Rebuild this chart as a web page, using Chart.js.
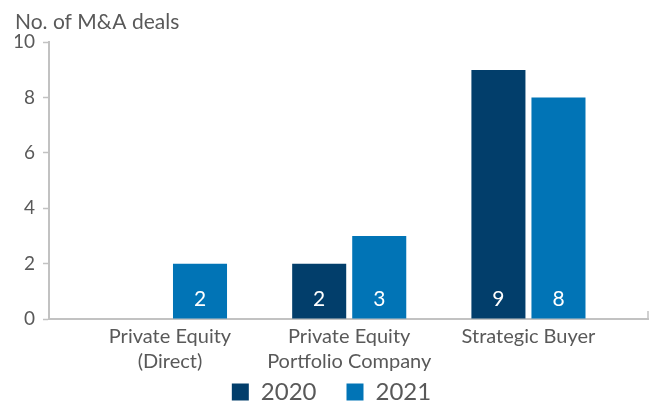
<!DOCTYPE html>
<html>
<head>
<meta charset="utf-8">
<script src="https://cdn.jsdelivr.net/npm/chart.js@4"></script>
<style>
  html, body { margin: 0; padding: 0; background: #fff; }
  #wrap { width: 656px; height: 409px; }
</style>
</head>
<body>
<div id="wrap"><canvas id="dealsChart" width="656" height="409"></canvas></div>
<script>
// chart data
const categories = [['Private Equity', '(Direct)'], ['Private Equity', 'Portfolio Company'], 'Strategic Buyer'];
const deals2020 = [0, 2, 9];
const deals2021 = [2, 3, 8];
const yTicks = [0, 2, 4, 6, 8, 10];

const textGrey = '#595959';
const axisGrey = '#c2c2c2';
const fontFamily = "Lato, 'Open Sans', sans-serif";

// x is a linear axis so the groups can sit inside the wider axis line
const toPoints = vals => vals.map((v, i) => ({ x: i + 1, y: v }));

// white value labels at the foot of each bar
const barLabels = {
    id: 'barLabels',
    afterDatasetsDraw(chart) {
        const ctx = chart.ctx;
        ctx.save();
        ctx.fillStyle = '#ffffff';
        ctx.font = '21px ' + fontFamily;
        ctx.textAlign = 'center';
        ctx.textBaseline = 'middle';
        chart.data.datasets.forEach((ds, di) => {
            chart.getDatasetMeta(di).data.forEach((bar, i) => {
                const v = ds.data[i].y;
                if (!v) return;
                ctx.fillText(String(v), bar.x, bar.base - 19);
            });
        });
        ctx.restore();
    }
};

// small upward tick closing the x axis on the right
const axisEnd = {
    id: 'axisEnd',
    afterDraw(chart) {
        const { ctx, chartArea } = chart;
        ctx.save();
        ctx.strokeStyle = axisGrey;
        ctx.lineWidth = 1.5;
        ctx.beginPath();
        ctx.moveTo(chartArea.right, chartArea.bottom - 8);
        ctx.lineTo(chartArea.right, chartArea.bottom);
        ctx.stroke();
        ctx.restore();
    }
};

new Chart(document.getElementById('dealsChart'), {
    type: 'bar',
    data: {
        datasets: [
            { label: '2020', data: toPoints(deals2020), backgroundColor: '#023e6b' },
            { label: '2021', data: toPoints(deals2021), backgroundColor: '#0174b6' }
        ]
    },
    options: {
        responsive: false,
        animation: false,
        categoryPercentage: 0.67,
        barPercentage: 0.9,
        layout: { padding: { left: 15, right: 8, top: 0, bottom: 0 } },
        scales: {
            x: {
                type: 'linear',
                offset: false,
                min: 0.325,
                max: 3.667,
                afterFit: scale => {
                    scale.height = 31;
                    // two-line labels run down past the axis box, don't clip them
                    scale._computeLabelArea = () => undefined;
                },
                afterBuildTicks: scale => { scale.ticks = categories.map((c, i) => ({ value: i + 1 })); },
                grid: { display: false, drawTicks: false, offset: false },
                border: { display: true, color: axisGrey, width: 2 },
                ticks: {
                    color: textGrey,
                    font: { family: fontFamily, size: 20, lineHeight: 1.25 },
                    padding: 5,
                    maxRotation: 0,
                    autoSkip: false,
                    callback: v => categories[v - 1]
                }
            },
            y: {
                min: 0,
                max: 10,
                afterFit: scale => { scale.width = 34; },
                afterBuildTicks: scale => { scale.ticks = yTicks.map(v => ({ value: v })); },
                grid: { drawOnChartArea: false, drawTicks: true, tickLength: 6, color: axisGrey, tickWidth: 1.5 },
                border: { display: true, color: axisGrey, width: 2 },
                ticks: {
                    color: textGrey,
                    font: { family: fontFamily, size: 19 },
                    padding: 8
                }
            }
        },
        plugins: {
            title: {
                display: true,
                text: 'No. of M&A deals',
                align: 'start',
                color: textGrey,
                font: { family: fontFamily, size: 21, weight: 'normal' },
                padding: { top: 10, bottom: 7 }
            },
            legend: {
                position: 'bottom',
                maxHeight: 59,
                labels: {
                    boxWidth: 17,
                    boxHeight: 17,
                    padding: 30,
                    color: textGrey,
                    font: { family: fontFamily, size: 24 }
                }
            },
            tooltip: { enabled: false }
        }
    },
    plugins: [barLabels, axisEnd]
});
</script>
</body>
</html>
